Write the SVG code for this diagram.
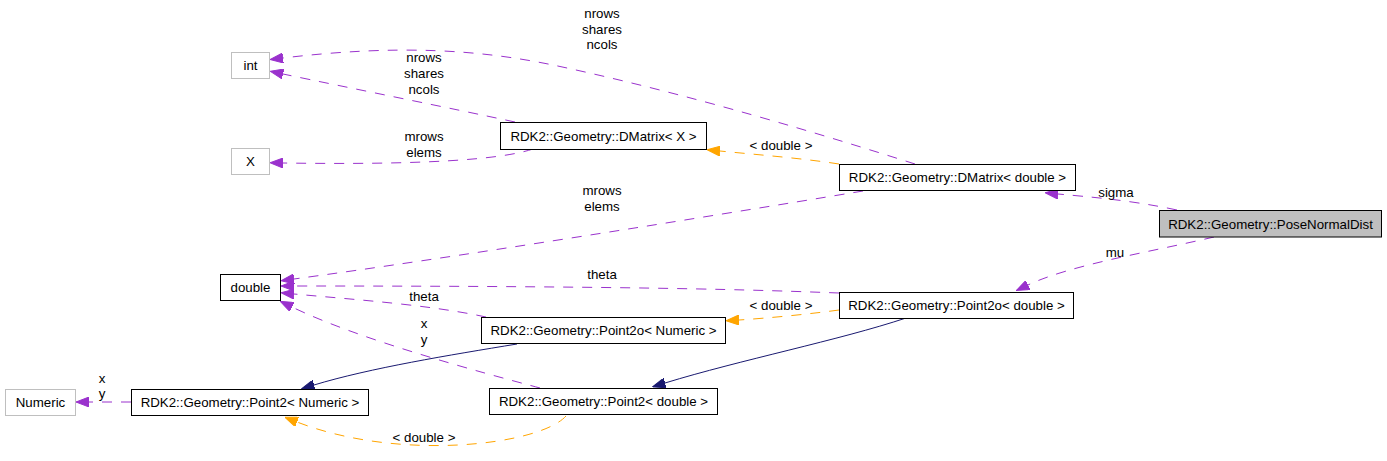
<svg xmlns="http://www.w3.org/2000/svg" width="1387" height="461" viewBox="0 0 1387 461">
<style>
  text { font-family: "Liberation Sans", Arial, sans-serif; font-size: 13.3px; fill: #000; text-anchor: middle; }
  .box { fill: #fff; stroke: #000; stroke-width: 1; }
  .ext { fill: #fff; stroke: #bfbfbf; stroke-width: 1; }
  .cur { fill: #bfbfbf; stroke: #000; stroke-width: 1; }
  .use { fill: none; stroke: #9a32cd; stroke-width: 1; stroke-dasharray: 10,9; }
  .tpl { fill: none; stroke: #ffa500; stroke-width: 1; stroke-dasharray: 10,9; }
  .inh { fill: none; stroke: #191970; stroke-width: 1; }
</style>
<defs>
  <marker id="aP" viewBox="0 0 13 10" refX="0" refY="5" markerWidth="13" markerHeight="10" markerUnits="userSpaceOnUse" orient="auto">
    <path d="M0,0 L13,5 L0,10 z" fill="#9a32cd" stroke="#9a32cd"/>
  </marker>
  <marker id="aO" viewBox="0 0 13 10" refX="0" refY="5" markerWidth="13" markerHeight="10" markerUnits="userSpaceOnUse" orient="auto">
    <path d="M0,0 L13,5 L0,10 z" fill="#ffa500" stroke="#ffa500"/>
  </marker>
  <marker id="aN" viewBox="0 0 13 10" refX="0" refY="5" markerWidth="13" markerHeight="10" markerUnits="userSpaceOnUse" orient="auto">
    <path d="M0,0 L13,5 L0,10 z" fill="#191970" stroke="#191970"/>
  </marker>
</defs>
<rect x="0" y="0" width="1387" height="461" fill="#fff"/>

<g id="connectors">
  <!-- DMatrix<double> -> int -->
  <path class="use" marker-end="url(#aP)" d="M915,164 C830,137 690,94 553,65 C480,50 400,44 283,58"/>
  <text x="602" y="18">nrows</text>
  <text x="602" y="34">shares</text>
  <text x="602" y="49">ncols</text>
  <!-- DMatrix<X> -> int -->
  <path class="use" marker-end="url(#aP)" d="M515,122 C450,108 350,88 283,74"/>
  <text x="424" y="62">nrows</text>
  <text x="424" y="78">shares</text>
  <text x="424" y="94">ncols</text>
  <!-- DMatrix<X> -> X -->
  <path class="use" marker-end="url(#aP)" d="M533,149 C500,160 420,165 283,163"/>
  <text x="424" y="141">mrows</text>
  <text x="424" y="157">elems</text>
  <!-- DMatrix<double> -> DMatrix<X> -->
  <path class="tpl" marker-end="url(#aO)" d="M839,164 C800,158 760,155 720,151"/>
  <text x="781" y="150">&lt; double &gt;</text>
  <!-- PoseNormalDist -> DMatrix<double> -->
  <path class="use" marker-end="url(#aP)" d="M1177,210 C1130,200 1090,197 1058,194"/>
  <text x="1116" y="197">sigma</text>
  <!-- PoseNormalDist -> Point2o<double> -->
  <path class="use" marker-end="url(#aP)" d="M1214,237 C1150,252 1070,265 1028,285"/>
  <text x="1115" y="257">mu</text>
  <!-- DMatrix<double> -> double -->
  <path class="use" marker-end="url(#aP)" d="M863,191 C700,218 450,258 294,279"/>
  <text x="602" y="195">mrows</text>
  <text x="602" y="211">elems</text>
  <!-- Point2o<double> -> double -->
  <path class="use" marker-end="url(#aP)" d="M839,293 C760,290 640,286 294,286"/>
  <text x="602" y="279">theta</text>
  <!-- Point2o<Numeric> -> double -->
  <path class="use" marker-end="url(#aP)" d="M486,317 C430,305 360,300 294,294"/>
  <text x="424" y="301">theta</text>
  <!-- Point2<double> -> double -->
  <path class="use" marker-end="url(#aP)" d="M540,388 C480,372 360,340 292,307"/>
  <text x="424" y="328">x</text>
  <text x="424" y="344">y</text>
  <!-- Point2o<double> -> Point2o<Numeric> -->
  <path class="tpl" marker-end="url(#aO)" d="M839,310 C810,314 770,318 739,320"/>
  <text x="781" y="310">&lt; double &gt;</text>
  <!-- Point2o<Numeric> -> Point2<Numeric> -->
  <path class="inh" marker-end="url(#aN)" d="M517,344 C450,355 370,368 314,385"/>
  <!-- Point2o<double> -> Point2<double> -->
  <path class="inh" marker-end="url(#aN)" d="M906,318 C840,340 740,360 665,383"/>
  <!-- Point2<double> -> Point2<Numeric> -->
  <path class="tpl" marker-end="url(#aO)" d="M566,416 C540,445 400,462 297,422"/>
  <text x="424" y="442">&lt; double &gt;</text>
  <!-- Point2<Numeric> -> Numeric -->
  <path class="use" marker-end="url(#aP)" d="M131,402 L89,402"/>
  <text x="102" y="383">x</text>
  <text x="102" y="398">y</text>
</g>

<g id="node-int">
  <rect class="ext" x="231.5" y="52.5" width="38" height="26"/>
  <text x="250.5" y="70">int</text>
</g>
<g id="node-X">
  <rect class="ext" x="231.5" y="148.5" width="38" height="26"/>
  <text x="250.5" y="166">X</text>
</g>
<g id="node-DMatrixX">
  <rect class="box" x="500.5" y="122.5" width="206" height="27"/>
  <text x="603.5" y="140.5">RDK2::Geometry::DMatrix&lt; X &gt;</text>
</g>
<g id="node-DMatrixDouble">
  <rect class="box" x="839.5" y="164.5" width="236" height="26"/>
  <text x="957.5" y="182">RDK2::Geometry::DMatrix&lt; double &gt;</text>
</g>
<g id="node-PoseNormalDist">
  <rect class="cur" x="1159.5" y="210.5" width="222" height="26.5"/>
  <text x="1270.5" y="228.5">RDK2::Geometry::PoseNormalDist</text>
</g>
<g id="node-double">
  <rect class="box" x="220.5" y="274.5" width="60" height="26"/>
  <text x="250.5" y="292">double</text>
</g>
<g id="node-Point2oDouble">
  <rect class="box" x="839.5" y="292.5" width="234" height="26"/>
  <text x="956.5" y="310">RDK2::Geometry::Point2o&lt; double &gt;</text>
</g>
<g id="node-Point2oNumeric">
  <rect class="box" x="481.5" y="317.5" width="244" height="26"/>
  <text x="603.5" y="335">RDK2::Geometry::Point2o&lt; Numeric &gt;</text>
</g>
<g id="node-Point2Numeric">
  <rect class="box" x="131.5" y="389.5" width="237" height="26"/>
  <text x="250" y="407">RDK2::Geometry::Point2&lt; Numeric &gt;</text>
</g>
<g id="node-Point2Double">
  <rect class="box" x="489.5" y="388.5" width="228" height="26"/>
  <text x="603.5" y="406">RDK2::Geometry::Point2&lt; double &gt;</text>
</g>
<g id="node-Numeric">
  <rect class="ext" x="5.5" y="389.5" width="70" height="26"/>
  <text x="40.5" y="407">Numeric</text>
</g>
</svg>
